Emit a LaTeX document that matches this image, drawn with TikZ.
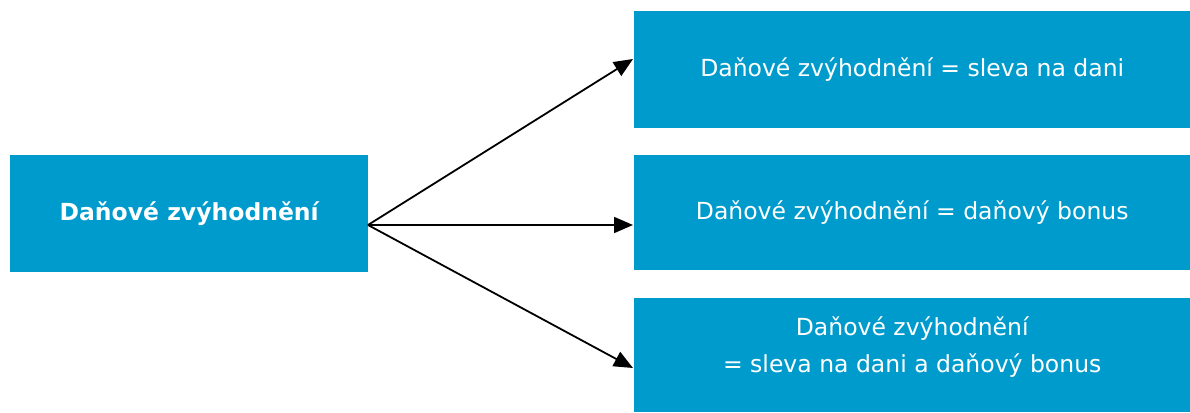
\documentclass[tikz,border=0pt]{standalone}
\usepackage{fontspec}
\setmainfont{DejaVu Sans}
\usetikzlibrary{arrows.meta}
\definecolor{boxblue}{RGB}{0,155,205}
\tikzset{
  box/.style={fill=boxblue, draw=none, text=white, anchor=north west, inner sep=0pt, align=center,
    font=\fontsize{23.5}{37}\selectfont},
  conn/.style={draw=black, line width=1.8pt, -{Triangle[length=19pt,width=16pt]}}
}
\begin{document}
\begin{tikzpicture}[x=1pt,y=-1pt]
\useasboundingbox (0,0) rectangle (1190,412);
\node[box, minimum width=358pt, minimum height=117pt, font=\fontsize{23.5}{36}\selectfont\bfseries] (src) at (10,155) {Daňové zvýhodnění};
\node[box, minimum width=556pt, minimum height=117pt] (b1) at (634,11) {Daňové zvýhodnění = sleva na dani};
\node[box, minimum width=556pt, minimum height=115pt] (b2) at (634,155) {Daňové zvýhodnění = daňový bonus};
\node[box, minimum width=556pt, minimum height=114pt, text depth=22pt] (b3) at (634,298) {Daňové zvýhodnění\\= sleva na dani a daňový bonus};
\coordinate (o) at (368,225);
\coordinate (t1) at (633,59);
\coordinate (t2) at (633,225);
\coordinate (t3) at (633,368);
\draw[conn] (o) -- (t1);
\draw[conn] (o) -- (t2);
\draw[conn] (o) -- (t3);
\end{tikzpicture}
\end{document}
